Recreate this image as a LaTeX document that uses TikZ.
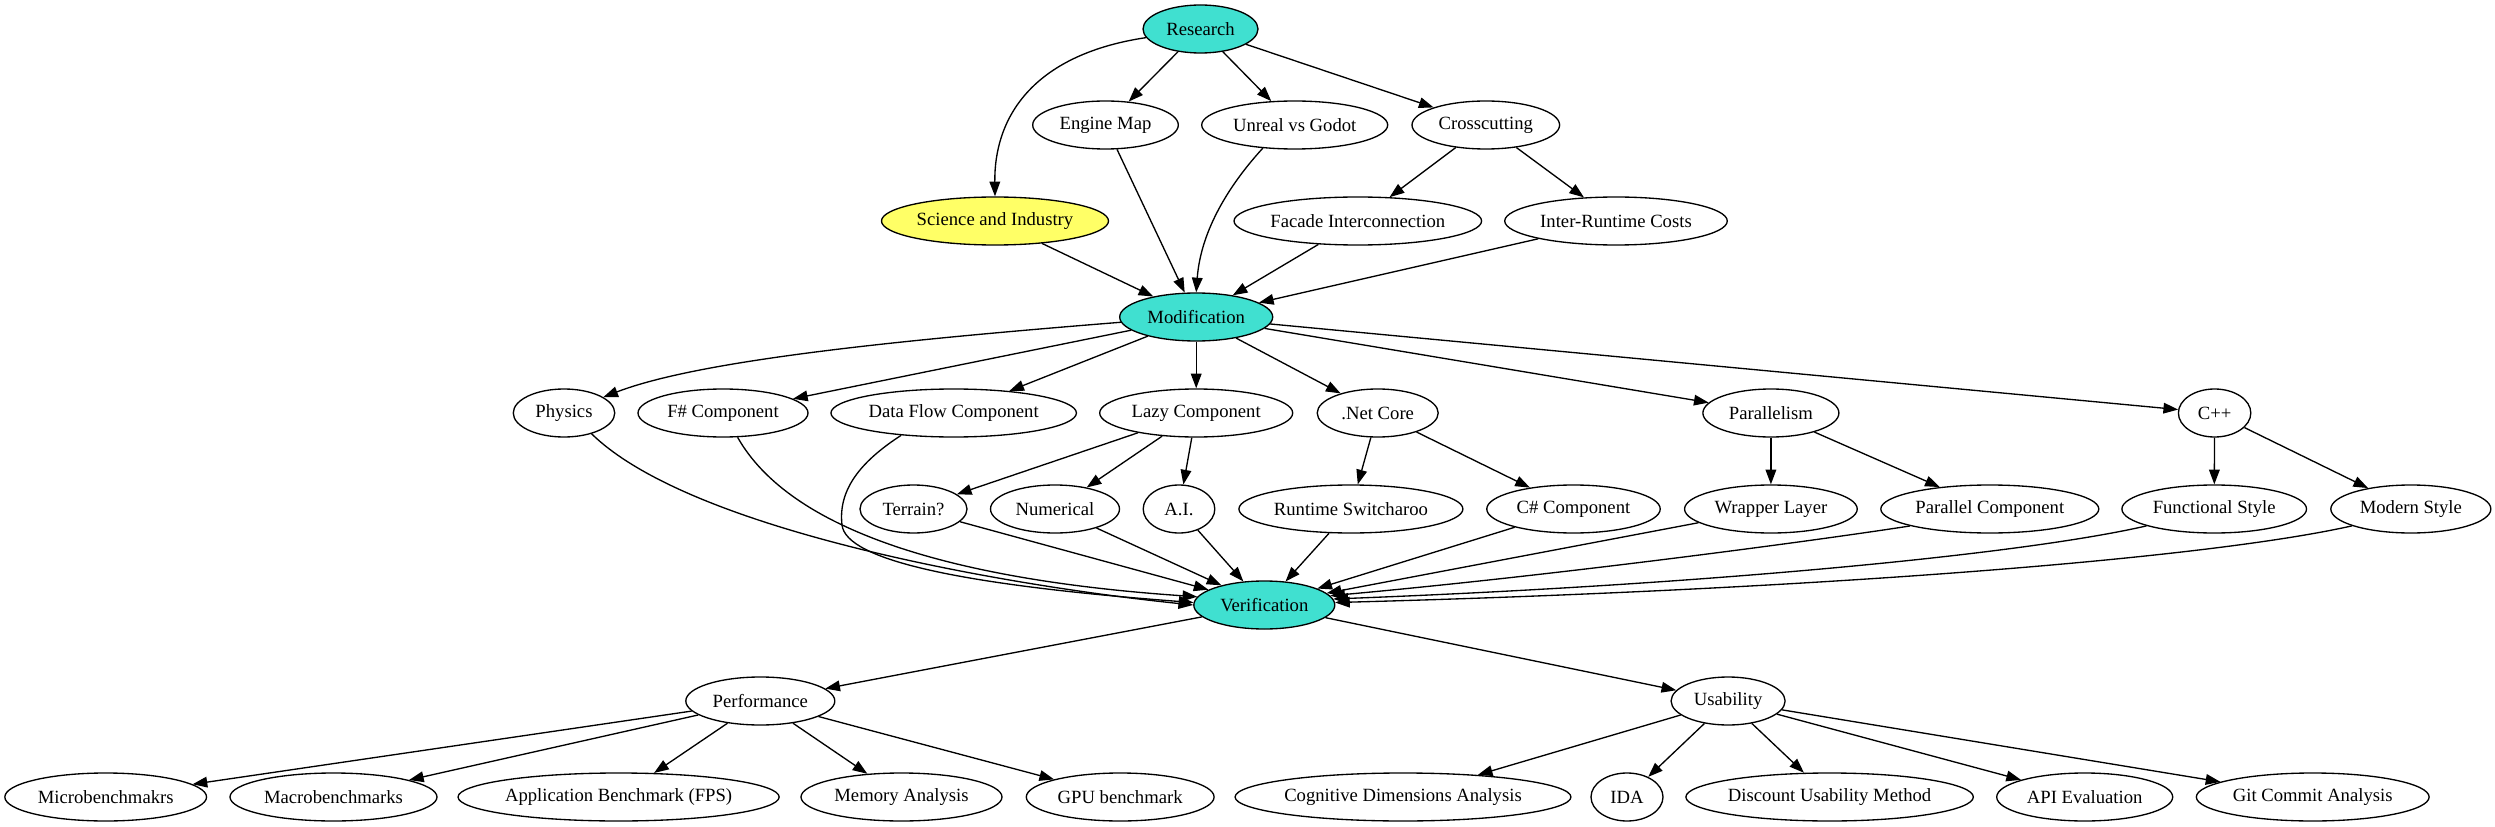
\documentclass[tikz,border=0pt]{standalone}
\usepackage{fontspec}
\setmainfont{Liberation Serif}
\usetikzlibrary{shapes.geometric,arrows.meta}
\definecolor{turq}{HTML}{40E0D0}
\definecolor{yel}{HTML}{FFFF66}
\begin{document}
\begin{tikzpicture}[x=0.75pt,y=-0.75pt,
 nd/.style={ellipse,draw=black,line width=1pt,minimum height=36pt,inner sep=0pt,font=\fontsize{14pt}{16pt}\selectfont},
 hub/.style={nd,fill=turq},
 edge/.style={draw=black,line width=1pt,-{Triangle[length=11pt,width=8pt]}}]
\useasboundingbox (0,0) rectangle (2495,827);
% rank 0
\node[hub,minimum width=86.25pt] (research) at (1200.5,29) {Research};
% rank 1
\node[nd,minimum width=109.2pt] (engine) at (1105.5,125) {Engine Map};
\node[nd,minimum width=139.5pt] (unreal) at (1294.7,125) {Unreal vs Godot};
\node[nd,minimum width=110.7pt] (cross) at (1485.8,125) {Crosscutting};
% rank 2
\node[nd,fill=yel,minimum width=170.25pt] (science) at (995,221) {Science and Industry};
\node[nd,minimum width=185.7pt] (facade) at (1357.8,221) {Facade Interconnection};
\node[nd,minimum width=166.9pt] (inter) at (1616,221) {Inter-Runtime Costs};
% rank 3
\node[hub,minimum width=114.75pt] (modif) at (1196.2,317) {Modification};
% rank 4
\node[nd,minimum width=76.1pt] (physics) at (564,413) {Physics};
\node[nd,minimum width=127.5pt] (fsharp) at (723,413) {F\# Component};
\node[nd,minimum width=184.1pt] (dataflow) at (953.7,413) {Data Flow Component};
\node[nd,minimum width=144.75pt] (lazy) at (1196.2,413) {Lazy Component};
\node[nd,minimum width=90.75pt] (netcore) at (1377.7,413) {.Net Core};
\node[nd,minimum width=102pt] (parallel) at (1770.9,413) {Parallelism};
\node[nd,minimum width=54.3pt] (cpp) at (2214.6,413) {C++};
% rank 5
\node[nd,minimum width=80.25pt] (terrain) at (913.5,509) {Terrain?};
\node[nd,minimum width=96.75pt] (numerical) at (1055,509) {Numerical};
\node[nd,minimum width=53.7pt] (ai) at (1179,509) {A.I.};
\node[nd,minimum width=168pt] (switch) at (1350.9,509) {Runtime Switcharoo};
\node[nd,minimum width=130.1pt] (csharp) at (1573.5,509) {C\# Component};
\node[nd,minimum width=129.5pt] (wrapper) at (1770.9,509) {Wrapper Layer};
\node[nd,minimum width=163.5pt] (parcomp) at (1989.8,509) {Parallel Component};
\node[nd,minimum width=138.45pt] (functional) at (2214.2,509) {Functional Style};
\node[nd,minimum width=120pt] (modern) at (2410.8,509) {Modern Style};
% rank 6
\node[hub,minimum width=105.75pt] (verif) at (1264.3,605) {Verification};
% rank 7
\node[nd,minimum width=111.75pt] (perf) at (760.3,701) {Performance};
\node[nd,minimum width=85.5pt] (usab) at (1728.1,701) {Usability};
% rank 8
\node[nd,minimum width=151.3pt] (micro) at (105.7,797) {Microbenchmakrs};
\node[nd,minimum width=155.25pt] (macro) at (333.5,797) {Macrobenchmarks};
\node[nd,minimum width=236.7pt] (appbench) at (618.6,797) {Application Benchmark (FPS)};
\node[nd,minimum width=150.75pt] (memory) at (901.5,797) {Memory Analysis};
\node[nd,minimum width=140.85pt] (gpu) at (1120.2,797) {GPU benchmark};
\node[nd,minimum width=246.5pt] (cognitive) at (1403,797) {Cognitive Dimensions Analysis};
\node[nd,minimum width=54pt] (ida) at (1627,797) {IDA};
\node[nd,minimum width=214.5pt] (discount) at (1829.6,797) {Discount Usability Method};
\node[nd,minimum width=132pt] (api) at (2084.7,797) {API Evaluation};
\node[nd,minimum width=174.6pt] (git) at (2312.7,797) {Git Commit Analysis};
% edges: Research
\draw[edge] (research.189) .. controls (1030,55) and (994,120) .. (science.north);
\draw[edge] (research) -- (engine);
\draw[edge] (research) -- (unreal);
\draw[edge] (research) -- (cross);
% into Modification
\draw[edge] (engine) -- (modif);
\draw[edge] (unreal.216) .. controls (1220,195) and (1200,240) .. (modif.north);
\draw[edge] (science) -- (modif);
\draw[edge] (cross) -- (facade);
\draw[edge] (cross) -- (inter);
\draw[edge] (facade) -- (modif);
\draw[edge] (inter) -- (modif);
% out of Modification
\draw[edge] (modif.184) .. controls (900,340) and (700,360) .. (physics.22);
\draw[edge] (modif) -- (fsharp);
\draw[edge] (modif) -- (dataflow);
\draw[edge] (modif) -- (lazy);
\draw[edge] (modif) -- (netcore);
\draw[edge] (modif) -- (parallel);
\draw[edge] (modif) -- (cpp);
\draw[edge] (lazy) -- (terrain);
\draw[edge] (lazy) -- (numerical);
\draw[edge] (lazy) -- (ai);
\draw[edge] (netcore) -- (switch);
\draw[edge] (netcore) -- (csharp);
\draw[edge] (parallel) -- (wrapper);
\draw[edge] (parallel) -- (parcomp);
\draw[edge] (cpp) -- (functional);
\draw[edge] (cpp) -- (modern);
% into Verification
\draw[edge] (physics.-37) .. controls (690,530) and (1000,585) .. (verif.180);
\draw[edge] (fsharp.-59) .. controls (790,530) and (950,580) .. (verif.173);
\draw[edge] (dataflow.203) .. controls (860,462) and (838,490) .. (842,525) .. controls (846,560) and (960,585) .. (verif.178);
\draw[edge] (terrain) -- (verif);
\draw[edge] (numerical) -- (verif);
\draw[edge] (ai) -- (verif);
\draw[edge] (switch) -- (verif);
\draw[edge] (csharp) -- (verif);
\draw[edge] (wrapper) -- (verif);
\draw[edge] (parcomp.192) .. controls (1820,540) and (1560,575) .. (verif.8);
\draw[edge] (functional.194) .. controls (2020,555) and (1700,585) .. (verif.5);
\draw[edge] (modern.196) .. controls (2200,560) and (1800,590) .. (verif.2);
% out of Verification
\draw[edge] (verif) -- (perf);
\draw[edge] (verif) -- (usab);
\draw[edge] (perf) -- (micro);
\draw[edge] (perf) -- (macro);
\draw[edge] (perf) -- (appbench);
\draw[edge] (perf) -- (memory);
\draw[edge] (perf) -- (gpu);
\draw[edge] (usab) -- (cognitive);
\draw[edge] (usab) -- (ida);
\draw[edge] (usab) -- (discount);
\draw[edge] (usab) -- (api);
\draw[edge] (usab) -- (git);
\end{tikzpicture}
\end{document}
